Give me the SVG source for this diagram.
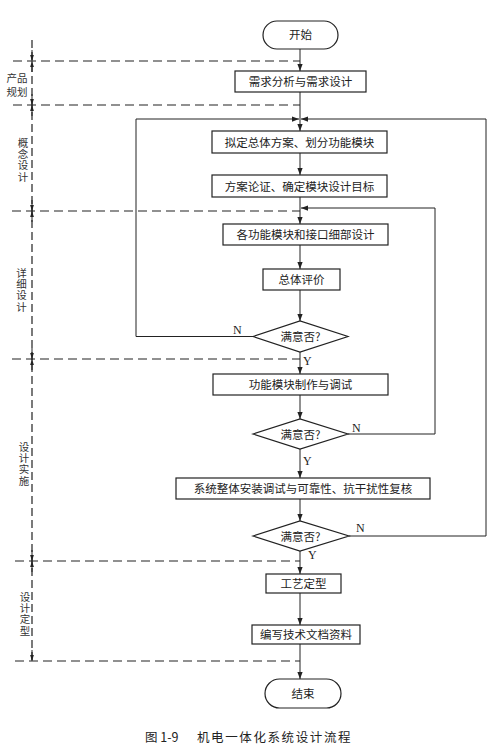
<svg xmlns="http://www.w3.org/2000/svg" width="500" height="747" viewBox="0 0 500 747">
<defs>
  <marker id="ah" viewBox="0 0 8 8" refX="8" refY="4" markerWidth="7" markerHeight="7" markerUnits="userSpaceOnUse" orient="auto">
    <path d="M0,1 L8,4 L0,7 Z" fill="#222"/>
  </marker>
  <marker id="dim" viewBox="0 0 8 8" refX="8" refY="4" markerWidth="6" markerHeight="6" markerUnits="userSpaceOnUse" orient="auto">
    <path d="M0,1.5 L8,4 L0,6.5 Z" fill="#222"/>
  </marker>
</defs>
<style>
  .bg { fill: #ffffff; }
  .box { fill: #ffffff; stroke: #222; stroke-width: 1.2; }
  .ln { fill: none; stroke: #222; stroke-width: 1; }
  .dash { fill: none; stroke: #222; stroke-width: 1.2; stroke-dasharray: 9 5; }
  .vdash { fill: none; stroke: #222; stroke-width: 1.2; stroke-dasharray: 8 4; }
  .t { font-family: "Noto Sans CJK SC", sans-serif; font-size: 11.5px; fill: #222; text-anchor: middle; }
  .side { font-family: "Noto Sans CJK SC", sans-serif; font-size: 10.5px; fill: #333; text-anchor: middle; }
  .vside { font-family: "Noto Sans CJK SC", sans-serif; font-size: 10.5px; fill: #333; writing-mode: vertical-rl; letter-spacing: 0.6px; }
  .yn { font-family: "Liberation Serif", serif; font-size: 12px; fill: #222; }
  .cap { font-family: "Noto Sans CJK SC", sans-serif; font-size: 12.5px; fill: #222; }
</style>
<rect class="bg" x="0" y="0" width="500" height="747"/>

<!-- stage boundaries and dimension line -->
<g id="stages">
  <line class="dash" x1="13" y1="61" x2="300" y2="61"/>
  <line class="dash" x1="13" y1="105" x2="300" y2="105"/>
  <line class="dash" x1="12" y1="211" x2="300" y2="211"/>
  <line class="dash" x1="12" y1="359" x2="300" y2="359"/>
  <line class="dash" x1="15" y1="561" x2="300" y2="561"/>
  <line class="dash" x1="15" y1="661" x2="300" y2="661"/>
  <line class="vdash" x1="32" y1="40" x2="32" y2="661"/>
  <g class="ln">
    <line x1="32" y1="50" x2="32" y2="61" marker-end="url(#dim)"/>
    <line x1="32" y1="72" x2="32" y2="61" marker-end="url(#dim)"/>
    <line x1="32" y1="94" x2="32" y2="105" marker-end="url(#dim)"/>
    <line x1="32" y1="116" x2="32" y2="105" marker-end="url(#dim)"/>
    <line x1="32" y1="200" x2="32" y2="211" marker-end="url(#dim)"/>
    <line x1="32" y1="222" x2="32" y2="211" marker-end="url(#dim)"/>
    <line x1="32" y1="348" x2="32" y2="359" marker-end="url(#dim)"/>
    <line x1="32" y1="370" x2="32" y2="359" marker-end="url(#dim)"/>
    <line x1="32" y1="550" x2="32" y2="561" marker-end="url(#dim)"/>
    <line x1="32" y1="572" x2="32" y2="561" marker-end="url(#dim)"/>
    <line x1="32" y1="650" x2="32" y2="661" marker-end="url(#dim)"/>
  </g>
  <text class="side" x="17" y="82">产品</text>
  <text class="side" x="17" y="96">规划</text>
  <text class="vside" x="23" y="138">概念设计</text>
  <text class="vside" x="21.5" y="268">详细设计</text>
  <text class="vside" x="24" y="442">设计实施</text>
  <text class="vside" x="25" y="592">设计定型</text>
</g>

<!-- connectors -->
<g id="connectors" class="ln">
  <line x1="300" y1="49" x2="300" y2="71" marker-end="url(#ah)"/>
  <line x1="300" y1="92" x2="300" y2="131" marker-end="url(#ah)"/>
  <line x1="300" y1="153" x2="300" y2="175" marker-end="url(#ah)"/>
  <line x1="300" y1="197" x2="300" y2="224" marker-end="url(#ah)"/>
  <line x1="300" y1="245" x2="300" y2="269" marker-end="url(#ah)"/>
  <line x1="300" y1="290" x2="300" y2="321" marker-end="url(#ah)"/>
  <line x1="300" y1="352" x2="300" y2="374" marker-end="url(#ah)"/>
  <line x1="300" y1="395" x2="300" y2="419" marker-end="url(#ah)"/>
  <line x1="300" y1="449" x2="300" y2="478" marker-end="url(#ah)"/>
  <line x1="300" y1="499" x2="300" y2="521" marker-end="url(#ah)"/>
  <line x1="300" y1="551" x2="300" y2="574" marker-end="url(#ah)"/>
  <line x1="300" y1="593" x2="300" y2="625" marker-end="url(#ah)"/>
  <line x1="300" y1="644" x2="300" y2="679" marker-end="url(#ah)"/>
  <!-- loop from diamond 1 (N) -->
  <polyline points="253,336.5 136,336.5 136,119 299,119" marker-end="url(#ah)"/>
  <!-- loop from diamond 2 (N) -->
  <polyline points="348,434 435,434 435,208 301,208" marker-end="url(#ah)"/>
  <!-- loop from diamond 3 (N) -->
  <polyline points="349,536 486,536 486,119 301,119" marker-end="url(#ah)"/>
</g>

<g id="start">
  <rect class="box" x="263" y="21" width="75" height="28" rx="14"/>
  <text class="t" x="300.5" y="39">开始</text>
</g>
<g id="n1">
  <rect class="box" x="235" y="71" width="131" height="21"/>
  <text class="t" x="300.5" y="86">需求分析与需求设计</text>
</g>
<g id="n2">
  <rect class="box" x="212" y="131" width="175" height="22"/>
  <text class="t" x="299.5" y="146.5">拟定总体方案、划分功能模块</text>
</g>
<g id="n3">
  <rect class="box" x="212" y="175" width="175" height="22"/>
  <text class="t" x="299.5" y="190.5">方案论证、确定模块设计目标</text>
</g>
<g id="n4">
  <rect class="box" x="223" y="224" width="165" height="21"/>
  <text class="t" x="305.5" y="239">各功能模块和接口细部设计</text>
</g>
<g id="n5">
  <rect class="box" x="263" y="269" width="77" height="21"/>
  <text class="t" x="301.5" y="284">总体评价</text>
</g>
<g id="d1">
  <polygon class="box" points="253,336.5 300,321 348,336.5 300,352"/>
  <text class="t" x="300.5" y="341">满意否?</text>
  <text class="yn" x="233" y="334">N</text>
  <text class="yn" x="303" y="365">Y</text>
</g>
<g id="n6">
  <rect class="box" x="213" y="374" width="175" height="21"/>
  <text class="t" x="300.5" y="389">功能模块制作与调试</text>
</g>
<g id="d2">
  <polygon class="box" points="253,434 300,419 348,434 300,449"/>
  <text class="t" x="300.5" y="438.5">满意否?</text>
  <text class="yn" x="352" y="432">N</text>
  <text class="yn" x="303" y="465">Y</text>
</g>
<g id="n7">
  <rect class="box" x="176" y="478" width="254" height="21"/>
  <text class="t" x="303" y="493">系统整体安装调试与可靠性、抗干扰性复核</text>
</g>
<g id="d3">
  <polygon class="box" points="253,536 300,521 349,536 300,551"/>
  <text class="t" x="300.5" y="540.5">满意否?</text>
  <text class="yn" x="356" y="532">N</text>
  <text class="yn" x="308" y="559">Y</text>
</g>
<g id="n8">
  <rect class="box" x="266" y="574" width="75" height="19"/>
  <text class="t" x="303.5" y="588">工艺定型</text>
</g>
<g id="n9">
  <rect class="box" x="252" y="625" width="108" height="19"/>
  <text class="t" x="306" y="639">编写技术文档资料</text>
</g>
<g id="end">
  <rect class="box" x="265" y="679" width="76" height="29" rx="14.5"/>
  <text class="t" x="303" y="698">结束</text>
</g>

<text class="cap" x="145" y="742">图 1-9</text>
<text class="cap" x="197" y="742" letter-spacing="1.6">机电一体化系统设计流程</text>
</svg>
